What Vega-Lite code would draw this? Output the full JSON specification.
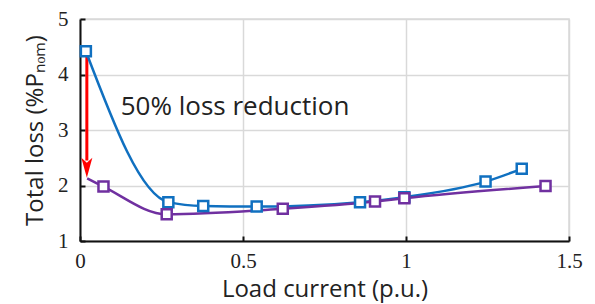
{
  "$schema": "https://vega.github.io/schema/vega-lite/v6.json",
  "width": 489,
  "height": 222,
  "autosize": {"type": "none"},
  "padding": {"left": 80, "top": 19, "right": 26, "bottom": 63},
  "background": "white",
  "config": {
    "view": {"stroke": "#d9d9d9", "strokeWidth": 1.5},
    "axis": {
      "labelFont": "Liberation Serif",
      "labelFontSize": 21,
      "labelColor": "#222",
      "titleFont": "Open Sans",
      "titleFontSize": 24,
      "titleFontWeight": "normal",
      "titleColor": "#222",
      "domainColor": "#111",
      "domainWidth": 2,
      "tickColor": "#111",
      "tickWidth": 2,
      "gridColor": "#d9d9d9",
      "gridWidth": 1.5
    }
  },
  "datasets": {
    "loss": [
      {"series": "before", "x": 0.018, "y": 4.42, "marker": true},
      {"series": "before", "x": 0.271, "y": 1.70, "marker": true},
      {"series": "before", "x": 0.378, "y": 1.63, "marker": true},
      {"series": "before", "x": 0.542, "y": 1.62, "marker": true},
      {"series": "before", "x": 0.859, "y": 1.70, "marker": true},
      {"series": "before", "x": 0.995, "y": 1.79, "marker": true},
      {"series": "before", "x": 1.244, "y": 2.07, "marker": true},
      {"series": "before", "x": 1.355, "y": 2.30, "marker": true},
      {"series": "after", "x": 0.022, "y": 2.13, "marker": false},
      {"series": "after", "x": 0.072, "y": 1.98, "marker": true},
      {"series": "after", "x": 0.266, "y": 1.48, "marker": true},
      {"series": "after", "x": 0.622, "y": 1.58, "marker": true},
      {"series": "after", "x": 0.905, "y": 1.71, "marker": true},
      {"series": "after", "x": 0.995, "y": 1.77, "marker": true},
      {"series": "after", "x": 1.428, "y": 1.99, "marker": true}
    ],
    "arrow": [
      {"x": 0.021, "y": 4.36, "y2": 2.45, "tipY": 2.14}
    ],
    "label": [
      {"x": 0.125, "y": 3.42, "text": "50% loss reduction"}
    ]
  },
  "encoding": {
    "x": {"field": "x", "type": "quantitative", "scale": {"domain": [0, 1.5], "nice": false, "zero": false},
      "axis": {"values": [0, 0.5, 1, 1.5], "format": "~g", "title": "Load current (p.u.)", "tickSize": -5, "labelPadding": 14, "titlePadding": 6, "labelFlush": false}},
    "y": {"field": "y", "type": "quantitative", "scale": {"domain": [1, 5], "nice": false, "zero": false},
      "axis": {"values": [1, 2, 3, 4, 5], "format": "d", "title": "Total loss (%Pₙₒₘ)", "tickSize": -5, "labelPadding": 17, "titlePadding": 10, "labelFlush": false}}
  },
  "layer": [
    {
      "data": {"name": "arrow"},
      "mark": {"type": "rule", "color": "#ff0000", "strokeWidth": 3},
      "encoding": {
        "y2": {"field": "y2"}
      }
    },
    {
      "data": {"name": "arrow"},
      "mark": {"type": "point", "shape": "M0,0L-0.55,-2L0,-1.5L0.55,-2Z", "size": 400, "filled": true, "color": "#ff0000", "opacity": 1},
      "encoding": {
        "y": {"field": "tipY", "type": "quantitative"}
      }
    },
    {
      "data": {"name": "loss"},
      "mark": {"type": "line", "interpolate": "monotone", "strokeWidth": 2.5},
      "encoding": {
        "color": {"field": "series", "type": "nominal", "scale": {"domain": ["before", "after"], "range": ["#1070c0", "#7030a0"]}, "legend": null}
      }
    },
    {
      "data": {"name": "loss"},
      "transform": [{"filter": "datum.marker"}],
      "mark": {"type": "point", "shape": "square", "size": 100, "strokeWidth": 2.5, "fill": "white", "filled": false, "opacity": 1},
      "encoding": {
        "color": {"field": "series", "type": "nominal", "legend": null}
      }
    },
    {
      "data": {"name": "label"},
      "mark": {"type": "text", "font": "Open Sans", "fontSize": 26, "align": "left", "baseline": "middle", "color": "#222"},
      "encoding": {
        "text": {"field": "text"}
      }
    }
  ]
}
